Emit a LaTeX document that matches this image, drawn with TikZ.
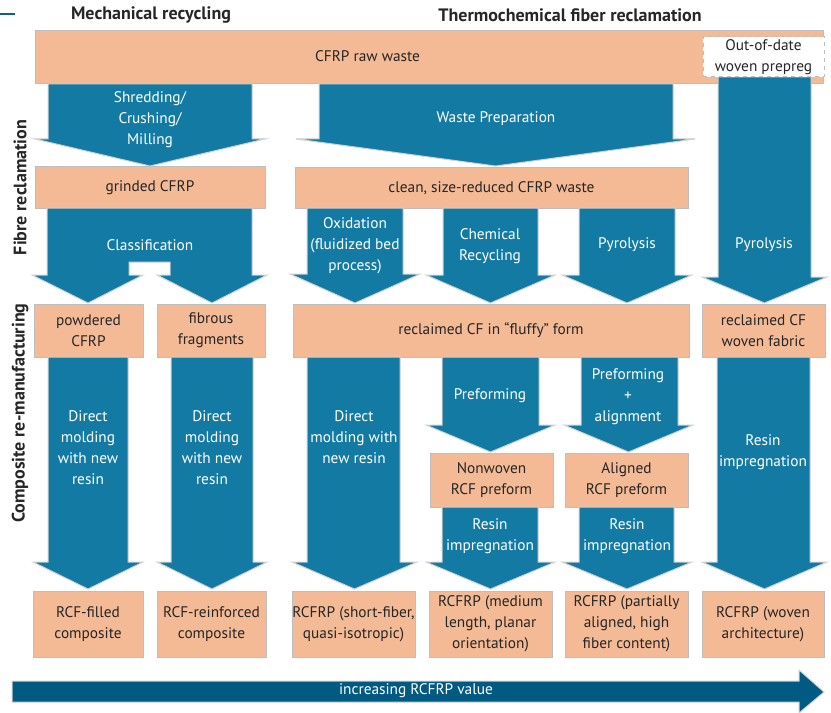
\documentclass[tikz,border=0pt]{standalone}
\usepackage{fontspec}
\setmainfont{PT Sans}

\definecolor{peach}{RGB}{243,186,149}
\definecolor{flowblue}{RGB}{19,123,163}
\definecolor{valueblue}{RGB}{0,90,130}
\definecolor{rimgray}{RGB}{190,190,190}

\tikzset{
  stage/.style={draw=rimgray, fill=peach, line width=0.75pt, inner sep=0pt,
    align=center, font=\fontsize{11.5}{15.75}\selectfont, text=black!85},
  dropbox/.style={stage, fill=white, dashed},
  arrowbody/.style={draw=rimgray!70, fill=flowblue, line width=0.75pt},
  flowtext/.style={align=center, font=\fontsize{11.5}{15.75}\selectfont, text=white},
  headtext/.style={font=\bfseries\fontsize{13.5}{16}\selectfont, text=black!85},
}

% body left, body right, top, shoulder, wing left, wing right, tip
\newcommand{\flowarrow}[7]{%
  \draw[arrowbody] (#1,#3) -- (#2,#3) -- (#2,#4) -- (#6,#4) -- ({(#5+#6)/2},#7)
    -- (#5,#4) -- (#1,#4) -- cycle;}
% name, left, top, right, bottom, text
\newcommand{\stagebox}[6]{%
  \node[stage, minimum width={(#4-#2)*0.75pt}, minimum height={(#5-#3)*0.75pt}]
    (#1) at ({(#2+#4)/2},{(#3+#5)/2}) {#6};}

\begin{document}
\begin{tikzpicture}[x=0.75pt,y=-0.75pt]
  \useasboundingbox (0,0) rectangle (831,713);

  % headings
  \draw[flowblue!80!black, line width=1.5pt] (0,14) -- (15,14);
  \node[headtext] (mechhead) at (151,15) {Mechanical recycling};
  \node[headtext] (thermhead) at (570,15) {Thermochemical fiber reclamation};
  \node[headtext, rotate=90] (fibrelabel) at (20,187.5) {Fibre reclamation};
  \node[headtext, rotate=90] (remanlabel) at (20,413) {Composite re-manufacturing};

  % raw waste
  \stagebox{raw}{35}{31}{823}{84}{}
  \node[stage, draw=none] (rawtext) at (367.5,56) {CFRP raw waste};

  % first row of arrows
  \flowarrow{48}{252}{84}{139}{35}{265}{166}
  \node[flowtext] (shred) at (150,120) {Shredding/\\Crushing/\\Milling};
  \flowarrow{319}{673}{84}{139}{296}{695}{166}
  \node[flowtext] (prep) at (496,119) {Waste Preparation};
  \flowarrow{718}{811}{77}{277}{702}{827}{303}
  \node[flowtext] (pyroright) at (764,245) {Pyrolysis};
  \node[dropbox, minimum width={121*0.75pt}, minimum height={40*0.75pt}]
    (prepreg) at (763.5,57) {Out-of-date\\woven prepreg};

  % reclaimed material
  \stagebox{grinded}{35}{167}{265}{208}{grinded CFRP}
  \stagebox{clean}{295}{168}{688}{208}{clean, size-reduced CFRP waste}

  % classification split
  \draw[arrowbody] (47,208) -- (252,208) -- (252,275) -- (267,275) -- (212,303)
    -- (157,275) -- (170,275) -- (170,262) -- (129,262) -- (129,275)
    -- (143,275) -- (88,303) -- (32,275) -- (47,275) -- cycle;
  \node[flowtext] (classif) at (150,245) {Classification};
  \flowarrow{307}{403}{208}{274}{290}{420}{303}
  \node[flowtext] (oxid) at (355,246) {Oxidation\\(fluidized bed\\process)};
  \flowarrow{443}{538}{208}{275}{426}{555}{303}
  \node[flowtext] (chem) at (490,246) {Chemical\\Recycling};
  \flowarrow{579}{675}{208}{275}{562}{692}{303}
  \node[flowtext] (pyromid) at (627,245) {Pyrolysis};

  % fibres
  \stagebox{powder}{34}{304}{143}{357}{powdered\\CFRP}
  \stagebox{fibrous}{157}{304}{265}{357}{fibrous\\fragments}
  \stagebox{fluffy}{293}{304}{689}{357}{reclaimed CF in ``fluffy'' form}
  \stagebox{fabric}{702}{304}{825}{357}{reclaimed CF\\woven fabric}

  % re-manufacturing
  \flowarrow{48}{128}{357}{562}{33}{143}{589}
  \node[flowtext] (mold1) at (88,448) {Direct\\molding\\with new\\resin};
  \flowarrow{171}{253}{357}{562}{157}{267}{589}
  \node[flowtext] (mold2) at (212,448) {Direct\\molding\\with new\\resin};
  \flowarrow{307}{400}{357}{562}{292}{417}{589}
  \node[flowtext] (mold3) at (354,437) {Direct\\molding with\\new resin};
  \flowarrow{442}{539}{357}{425}{426}{555}{452}
  \node[flowtext] (preform) at (490,396) {Preforming};
  \flowarrow{581}{678}{357}{425}{564}{693}{452}
  \node[flowtext] (align) at (628,397) {Preforming\\+\\alignment};
  \flowarrow{717}{810}{357}{562}{702}{827}{589}
  \node[flowtext] (resin3) at (763,452) {Resin\\impregnation};

  \stagebox{nonwoven}{430}{453}{553}{507}{Nonwoven\\RCF preform}
  \stagebox{aligned}{565}{453}{688}{507}{Aligned\\RCF preform}
  \flowarrow{442}{538}{507}{562}{426}{555}{589}
  \node[flowtext] (resin1) at (490,536) {Resin\\impregnation};
  \flowarrow{579}{674}{507}{562}{562}{692}{589}
  \node[flowtext] (resin2) at (627,536) {Resin\\impregnation};

  % products
  \stagebox{filled}{33}{591}{143}{657}{RCF-filled\\composite}
  \stagebox{reinf}{157}{591}{266}{657}{RCF-reinforced\\composite}
  \stagebox{short}{292}{591}{415}{657}{RCFRP (short-fiber,\\quasi-isotropic)}
  \stagebox{medium}{429}{591}{552}{657}{RCFRP (medium\\length, planar\\orientation)}
  \stagebox{partial}{565}{591}{688}{657}{RCFRP (partially\\aligned, high\\fiber content)}
  \stagebox{woven}{702}{591}{824}{657}{RCFRP (woven\\architecture)}

  % value arrow
  \draw[draw=rimgray!70, fill=valueblue, line width=0.75pt] (12,681) -- (799,681)
    -- (799,670) -- (824,692) -- (799,713) -- (799,702) -- (12,702) -- cycle;
  \node[flowtext] (value) at (416,691) {increasing RCFRP value};
\end{tikzpicture}
\end{document}
